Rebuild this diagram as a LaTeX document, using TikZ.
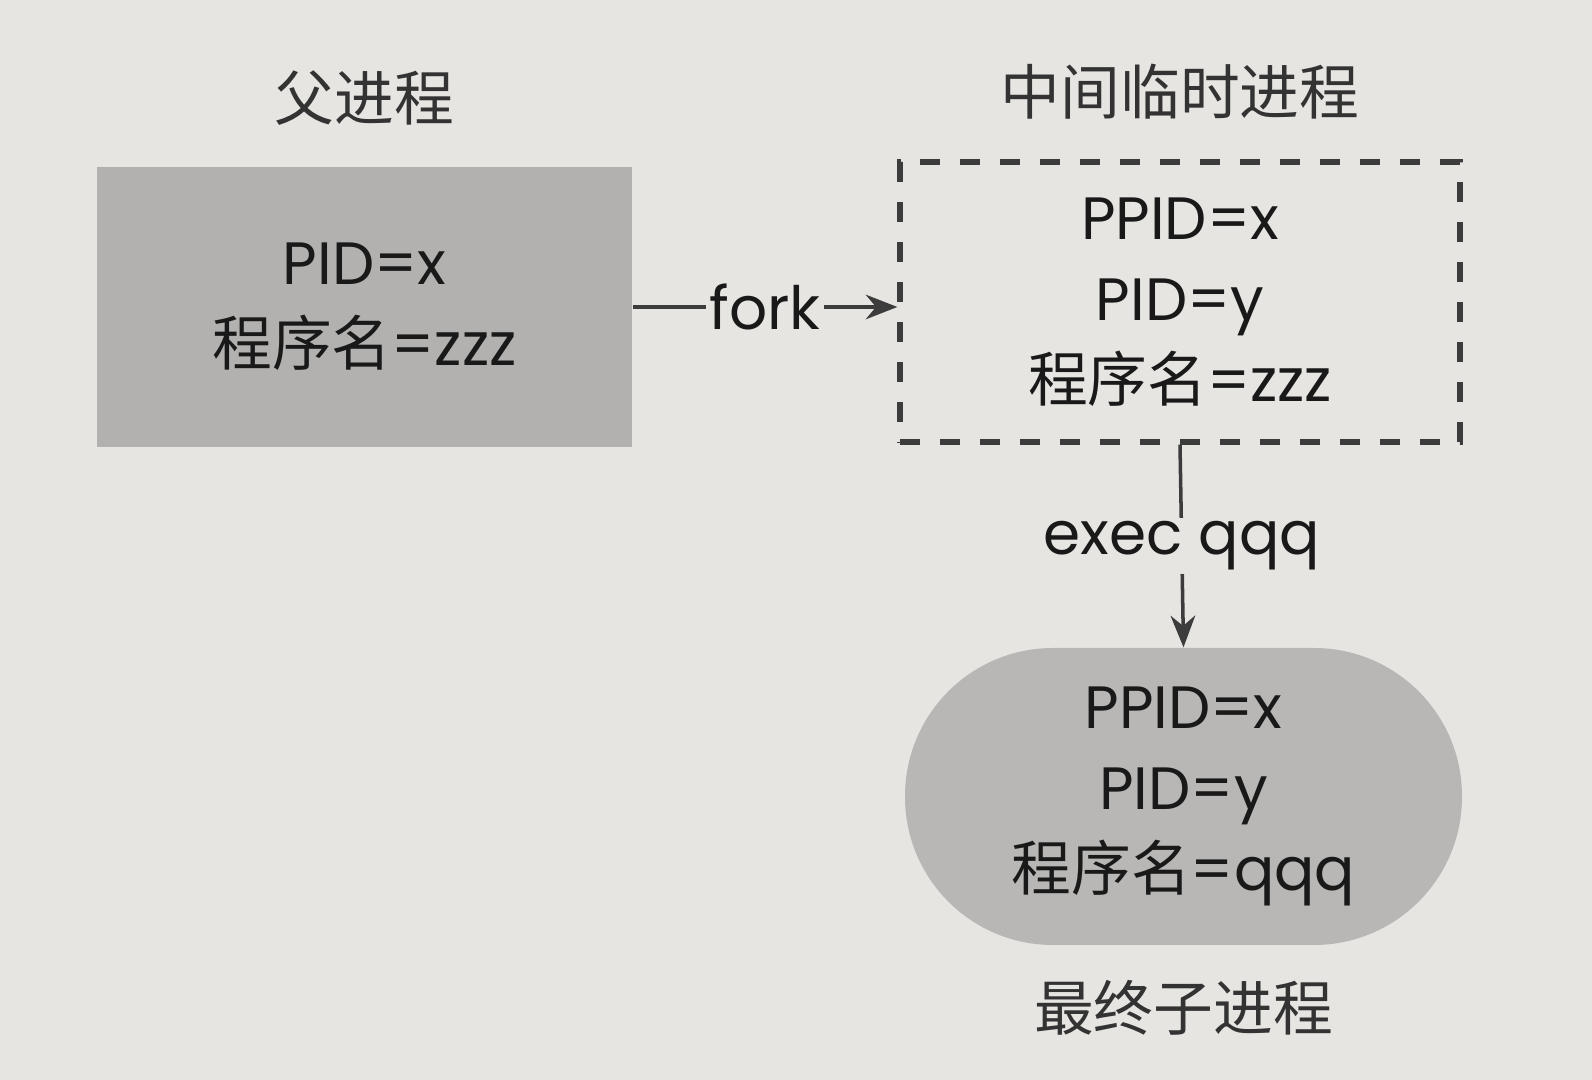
\documentclass[tikz,border=0pt]{standalone}
\usepackage{fontspec}
\setmainfont{Poppins}
\newfontfamily\cjk{Noto Sans CJK SC}
\usetikzlibrary{arrows.meta, positioning}
\definecolor{paper}{RGB}{231,229,226}
\definecolor{boxgray}{RGB}{178,177,175}
\definecolor{inkgray}{RGB}{60,60,60}

\begin{document}
\begin{tikzpicture}
		\tikzset{
			proc/.style={rectangle, fill=boxgray, minimum width=5.35cm, minimum height=2.8cm, align=center, font=\fontsize{17}{23}\selectfont, text=black!90},
			tmpproc/.style={rectangle, draw=inkgray, line width=1.5pt, dash pattern=on 0.2cm off 0.2cm, minimum width=5.6cm, minimum height=2.8cm, align=center, font=\fontsize{17}{23}\selectfont, text=black!90},
			childproc/.style={rectangle, rounded corners=1.48cm, fill=boxgray!92, minimum width=5.57cm, minimum height=2.97cm, align=center, font=\fontsize{17}{23}\selectfont, text=black!90},
			caption/.style={font=\cjk\fontsize{17}{20}\selectfont, text=black!80},
			flow/.style={-{Stealth[length=9pt, width=7pt]}, color=inkgray, line width=1pt},
			edgelabel/.style={fill=paper, inner sep=1pt, font=\fontsize{17}{20}\selectfont, text=black!90}
		}
		\fill[paper] (0,0) rectangle (15.92,-10.8);
		\useasboundingbox (0,0) rectangle (15.92,-10.8);

		\node[proc] (parent) at (3.645,-3.07) {PID=x\\{\cjk 程序名}=zzz};
		\node[tmpproc] (middle) at (11.8,-3.02) {PPID=x\\PID=y\\{\cjk 程序名}=zzz};
		\node[childproc] (child) at (11.835,-7.965) {PPID=x\\PID=y\\{\cjk 程序名}=qqq};

		\node[caption, above=0.28cm of parent] (parenttitle) {父进程};
		\node[caption, above=0.28cm of middle] (middletitle) {中间临时进程};
		\node[caption, below=0.22cm of child] (childtitle) {最终子进程};

		\draw[flow] (parent.east) -- node[edgelabel] {fork} (parent.east -| middle.west);
		\draw[flow] (middle.south) -- node[edgelabel] {exec qqq} (child.north);
	\end{tikzpicture}
\end{document}
